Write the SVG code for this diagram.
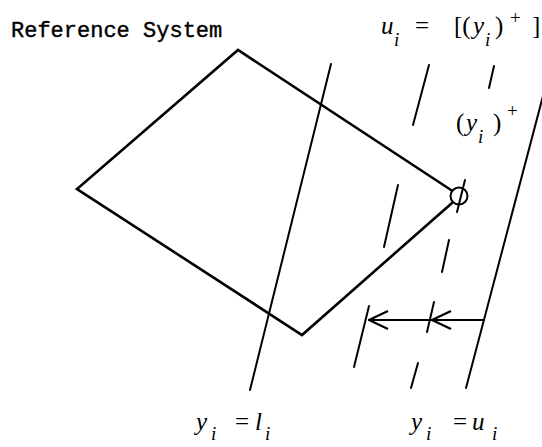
<svg xmlns="http://www.w3.org/2000/svg" width="542" height="447" viewBox="0 0 542 447">
<style>
.bg{fill:#fff}
.edge{fill:none;stroke:#000;stroke-width:2.6;stroke-linejoin:miter;stroke-linecap:round}
.ln{fill:none;stroke:#000;stroke-width:2;stroke-linecap:round}
.title{font-family:"Liberation Mono","DejaVu Sans Mono",monospace;font-size:22px;fill:#000;stroke:#000;stroke-width:0.4}
.m{font-family:"Liberation Serif","DejaVu Serif",serif;font-style:italic;font-size:25px;fill:#000}
.s{font-size:19px}
.r{font-style:normal}
</style>
<defs>
<marker id="vhead" viewBox="0 0 22 20" refX="21" refY="10" markerWidth="22" markerHeight="20" markerUnits="userSpaceOnUse" orient="auto">
<path d="M2,1 L21,10 L2,19" fill="none" stroke="#000" stroke-width="2.2"/>
</marker>
</defs>
<rect class="bg" width="542" height="447"/>
<g id="title"><text class="title" x="11" y="37">Reference System</text></g>
<g id="reference-system">
<path class="edge" d="M451,190 L238,50 L77,189 L302,335 L452,203"/>
<circle cx="459" cy="196" r="8.5" fill="none" stroke="#000" stroke-width="2"/>
</g>
<g id="lower-bound">
<line class="ln" x1="331" y1="64" x2="250" y2="390"/>
</g>
<g id="dashed-mid">
<line class="ln" x1="429" y1="65" x2="413" y2="125"/>
<line class="ln" x1="398" y1="185" x2="384" y2="247"/>
<line class="ln" x1="369" y1="306" x2="354" y2="367"/>
</g>
<g id="dashed-proj">
<line class="ln" x1="494" y1="66" x2="489" y2="88"/>
<line class="ln" x1="465" y1="180" x2="457" y2="212"/>
<line class="ln" x1="449" y1="240" x2="442" y2="272"/>
<line class="ln" x1="434" y1="302" x2="427" y2="332"/>
<line class="ln" x1="418" y1="363" x2="411" y2="388"/>
</g>
<g id="upper-bound">
<line class="ln" x1="543" y1="96" x2="466" y2="388"/>
</g>
<g id="connectors">
<line class="ln" x1="484" y1="320" x2="432" y2="320" marker-end="url(#vhead)"/>
<line class="ln" x1="431" y1="320" x2="369" y2="320" marker-end="url(#vhead)"/>
</g>
<g id="label-top">
<text class="m"><tspan x="381" y="34">u</tspan><tspan class="s" x="394" y="46">i</tspan><tspan class="r" x="415" y="34">=</tspan><tspan class="r" x="454" y="34">[(</tspan><tspan x="473" y="34">y</tspan><tspan class="s" x="485" y="46">i</tspan><tspan class="r" x="495" y="34">)</tspan><tspan class="r s" x="510" y="24">+</tspan><tspan class="r" x="532" y="34">]</tspan></text>
</g>
<g id="label-proj">
<text class="m"><tspan class="r" x="456" y="131">(</tspan><tspan x="466" y="131">y</tspan><tspan class="s" x="478" y="143">i</tspan><tspan class="r" x="493" y="131">)</tspan><tspan class="r s" x="507" y="117">+</tspan></text>
</g>
<g id="label-lower">
<text class="m"><tspan x="196" y="430">y</tspan><tspan class="s" x="211" y="440">i</tspan><tspan class="r" x="235" y="430">=</tspan><tspan x="255" y="430">l</tspan><tspan class="s" x="265" y="440">i</tspan></text>
</g>
<g id="label-upper">
<text class="m"><tspan x="411" y="430">y</tspan><tspan class="s" x="426" y="440">i</tspan><tspan class="r" x="453" y="430">=</tspan><tspan x="472" y="430">u</tspan><tspan class="s" x="492" y="440">i</tspan></text>
</g>
</svg>
